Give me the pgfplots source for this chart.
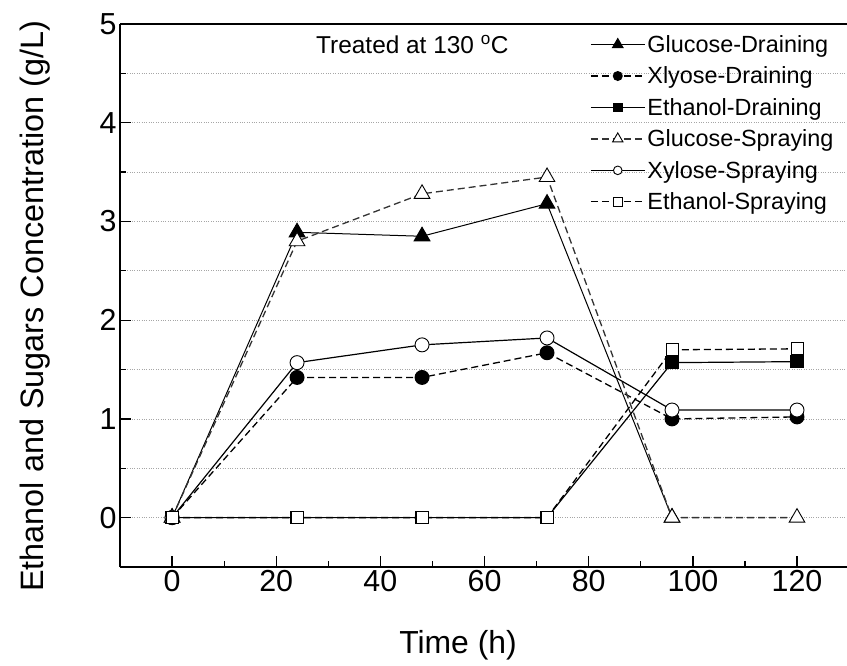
\documentclass[border=0pt]{standalone}
\usepackage{fontspec}
\setmainfont{Liberation Sans}
\usepackage{pgfplots}
\pgfplotsset{compat=1.18}
\usetikzlibrary{calc}

\pgfplotstableread{
t   gd    xd    ed    gs    xs    es
0   0     0     0     0     0     0
24  2.89  1.42  0     2.80  1.57  0
48  2.85  1.42  0     3.28  1.75  0
72  3.18  1.67  0     3.45  1.82  0
96  0     1.00  1.57  0     1.09  1.70
120 nan   1.02  1.58  0     1.09  1.71
}\datatable

\begin{document}
\begin{tikzpicture}
\begin{axis}[
  name=ax,
  scale only axis,
  width=727bp, height=543bp,
  xmin=-10, xmax=129.6,
  ymin=-0.5, ymax=5,
  clip=false,
  axis x line*=bottom, axis y line*=left,
  axis line style={line width=1.6bp, -},
  xtick={0,20,...,120}, minor x tick num=1,
  ytick={0,1,...,5}, minor y tick num=1,
  tick align=inside,
  major tick length=11bp, minor tick length=6bp,
  every tick/.style={black, line width=1.3bp},
  ymajorgrids, yminorgrids,
  major grid style={gray!70, dotted, line width=0.7bp},
  minor grid style={gray!70, dotted, line width=0.7bp},
  /pgf/number format/assume math mode=true,
  ticklabel style={font=\fontsize{30.5}{34}\selectfont},
  xlabel={Time (h)},
  ylabel={Ethanol and Sugars Concentration (g/L)},
  xlabel style={at={(axis description cs:0.465,-0.144)}, anchor=center, font=\fontsize{32}{36}\selectfont},
  ylabel style={at={(axis description cs:-0.117,0.48)}, anchor=center, rotate=0, font=\fontsize{32.5}{36}\selectfont},
  legend cell align=left,
  legend style={draw=none, fill=none, at={(rel axis cs:0.645,0.985)}, anchor=north west,
    font=\fontsize{23.5}{26}\selectfont, row sep=9bp, inner sep=1bp},
  legend image code/.code={%
    \draw[mark repeat=2, mark phase=2, #1] plot coordinates {(0bp,0bp) (27bp,0bp) (54bp,0bp)};},
]
% Draining
\addplot[black, line width=1bp, mark=triangle*, mark size=9bp, mark options={solid, fill=black},
  legend image post style={mark size=6bp}] table[x=t, y=gd] {\datatable};
\addlegendentry{Glucose-Draining}
\addplot[black, line width=1.3bp, dash pattern=on 7bp off 4bp, mark=*, mark size=6.8bp, mark options={solid, fill=black},
  legend image post style={mark size=4.3bp}] table[x=t, y=xd] {\datatable};
\addlegendentry{Xlyose-Draining}
\addplot[black, line width=1.2bp, mark=square*, mark size=6bp, mark options={solid, fill=black},
  legend image post style={mark size=4.3bp}] table[x=t, y=ed] {\datatable};
\addlegendentry{Ethanol-Draining}
% Spraying
\addplot[black!80, line width=1.3bp, dash pattern=on 7bp off 4bp, mark=triangle*, mark size=9bp, mark options={solid, draw=black, fill=white, line width=0.9bp},
  legend image post style={mark size=6bp}] table[x=t, y=gs] {\datatable};
\addlegendentry{Glucose-Spraying}
\addplot[black, line width=1.2bp, mark=*, mark size=7bp, mark options={solid, fill=white, line width=0.9bp},
  legend image post style={mark size=4.3bp}] table[x=t, y=xs] {\datatable};
\addlegendentry{Xylose-Spraying}
\addplot[black, line width=1.3bp, dash pattern=on 7bp off 4bp, mark=square*, mark size=6bp, mark options={solid, fill=white, line width=0.9bp},
  legend image post style={mark size=4.3bp}] table[x=t, y=es] {\datatable};
\addlegendentry{Ethanol-Spraying}

\node[anchor=west, font=\fontsize{24.5}{28}\selectfont] at (axis cs:27,4.79) {Treated at 130 \textsuperscript{o}C};
\end{axis}
\draw[line width=1.6bp] (ax.north west) -- (ax.north east);
\pgfresetboundingbox
\path ($(ax.south west)+(-120bp,-99bp)$) rectangle ($(ax.north east)+(0bp,24bp)$);
\end{tikzpicture}
\end{document}
